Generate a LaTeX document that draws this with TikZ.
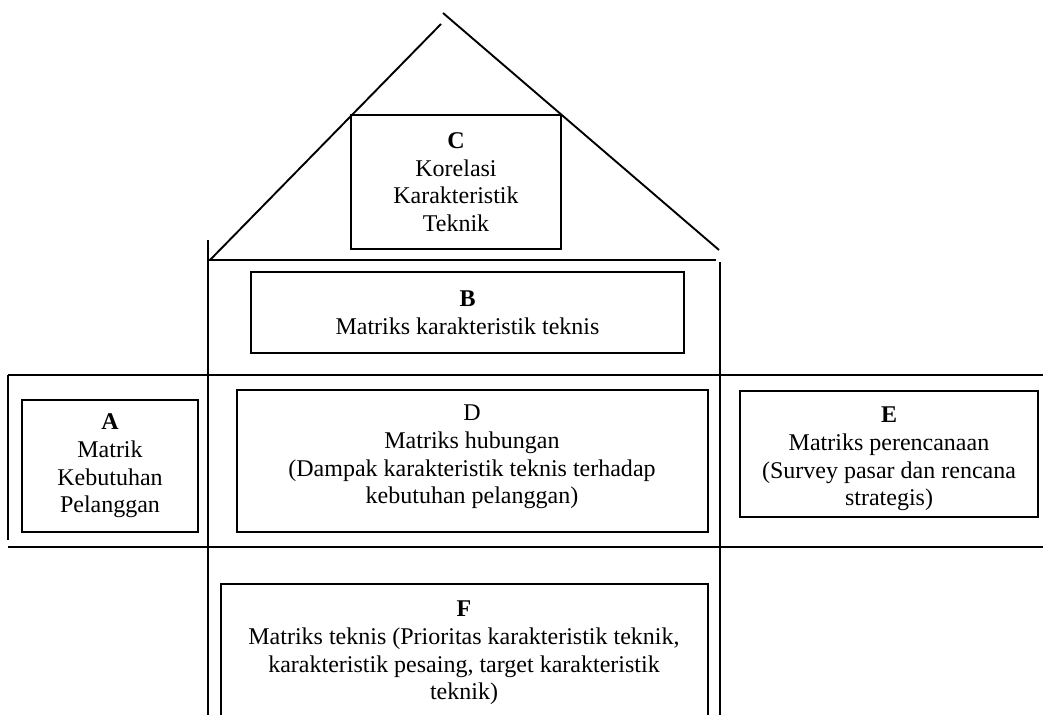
\documentclass[tikz,border=0pt]{standalone}
\usepackage{fontspec}
\setmainfont{Liberation Serif}
\begin{document}
\begin{tikzpicture}[x=1pt,y=-1pt,line width=1.9pt,
  box/.style={draw,line width=1.9pt,inner sep=0pt,align=center,font=\fontsize{24}{27.6}\selectfont},
  txt/.style={inner sep=0pt,align=center,font=\fontsize{24}{27.6}\selectfont}]
\useasboundingbox (0,0) rectangle (1043,715);
% roof
\coordinate (rl) at (210,260);
\coordinate (rt1) at (441,24);
\coordinate (rt2) at (443,13);
\coordinate (rr) at (719,250);
\draw (rl) -- (rt1);
\draw (rt2) -- (rr);
% frame lines
\coordinate (v1t) at (208,240);
\coordinate (v1b) at (208,715);
\coordinate (v2t) at (720,262);
\coordinate (v2b) at (720,715);
\coordinate (h0l) at (208,260);
\coordinate (h0r) at (716,260);
\coordinate (h1l) at (8,375);
\coordinate (h1r) at (1043,375);
\coordinate (h2l) at (8,547);
\coordinate (h2r) at (1043,547);
\coordinate (vl) at (8,540);
\draw (v1t) -- (v1b);
\draw (v2t) -- (v2b);
\draw (h0l) -- (h0r);
\draw (h1l) -- (h1r);
\draw (h2l) -- (h2r);
\draw (h1l) -- (vl);
% boxes
\node[box,minimum width=210,minimum height=134] (C) at (456,182)
  {\textbf{C}\\Korelasi\\Karakteristik\\Teknik};
\node[box,minimum width=433,minimum height=81] (B) at (467.5,312.5)
  {\textbf{B}\\Matriks karakteristik teknis};
\node[box,minimum width=176,minimum height=132] (A) at (110,466)
  {\textbf{A}\\Matrik\\Kebutuhan\\Pelanggan};
\node[box,minimum width=471,minimum height=142] (D) at (472.5,461) {};
\node[txt] (Dt) at (472,457)
  {D\\Matriks hubungan\\(Dampak karakteristik teknis terhadap\\kebutuhan pelanggan)};
\node[box,minimum width=298,minimum height=126] (E) at (889,454) {};
\node[txt] (Et) at (889,459)
  {\textbf{E}\\Matriks perencanaan\\(Survey pasar dan rencana\\strategis)};
% F box (open at the bottom edge of the picture)
\coordinate (Fbl) at (221,715);
\coordinate (Fbr) at (708,715);
\draw (Fbl) |- (708,584) -- (Fbr);
\node[txt] (F) at (464,653)
  {\textbf{F}\\Matriks teknis (Prioritas karakteristik teknik,\\karakteristik pesaing, target karakteristik\\teknik)};
\end{tikzpicture}
\end{document}
